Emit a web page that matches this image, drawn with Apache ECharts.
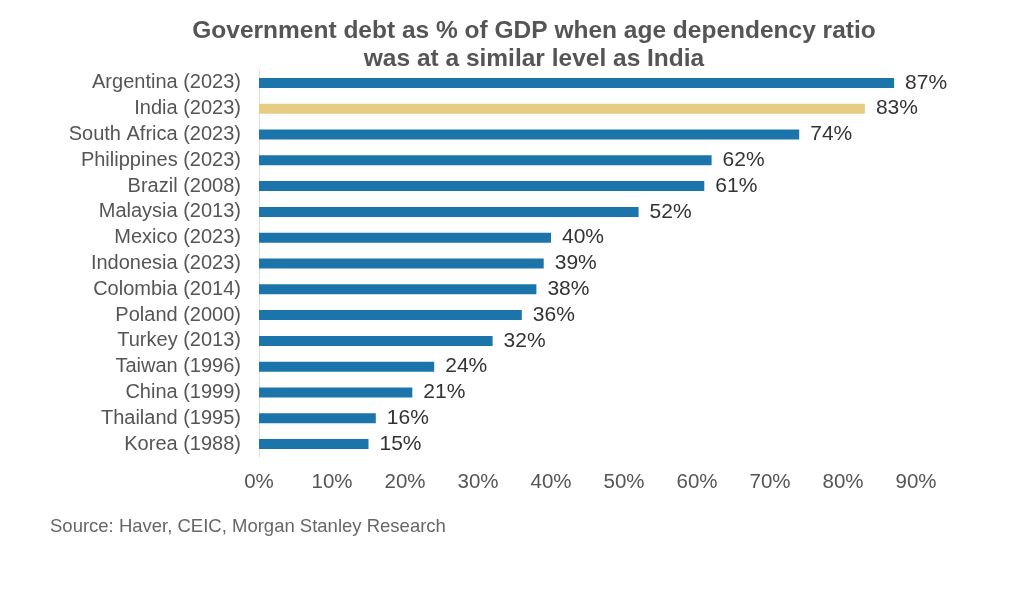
<!DOCTYPE html>
<html>
<head>
<meta charset="utf-8">
<script src="https://cdn.jsdelivr.net/npm/echarts@6/dist/echarts.min.js"></script>
<style>
html,body{margin:0;padding:0;background:#fff;}
#chart{width:1009px;height:606px;}
</style>
</head>
<body>
<div id="chart"></div>
<script>
const categories = ["Argentina (2023)","India (2023)","South Africa (2023)","Philippines (2023)","Brazil (2008)","Malaysia (2013)","Mexico (2023)","Indonesia (2023)","Colombia (2014)","Poland (2000)","Turkey (2013)","Taiwan (1996)","China (1999)","Thailand (1995)","Korea (1988)"];
const values = [87,83,74,62,61,52,40,39,38,36,32,24,21,16,15];
const highlight = "India (2023)";
const tickValues = [0,10,20,30,40,50,60,70,80,90];

const chart = echarts.init(document.getElementById('chart'));
chart.setOption({
  backgroundColor:'#fff',
  animation:false,
  title:{
    text:'Government debt as % of GDP when age dependency ratio\nwas at a similar level as India',
    left:529, top:12, textAlign:'center',
    textStyle:{fontFamily:'Liberation Sans',fontWeight:'bold',fontSize:24.5,color:'#555555',lineHeight:28}
  },
  graphic:[{type:'text',left:50,top:517,style:{text:'Source: Haver, CEIC, Morgan Stanley Research',font:'18.5px "Liberation Sans"',fill:'#666666'}}],
  grid:{left:259,right:93,top:70,bottom:149,containLabel:false},
  xAxis:{
    type:'value',min:0,max:90,interval:10,
    axisLine:{show:false},axisTick:{show:false},splitLine:{show:false},
    axisLabel:{formatter:v=>v+'%',fontFamily:'Liberation Sans',fontSize:20.5,color:'#555555',margin:15}
  },
  yAxis:{
    type:'category',data:categories,inverse:true,
    axisLine:{show:true,lineStyle:{color:'#e2e2e2',width:1}},axisTick:{show:false},
    axisLabel:{interval:0,fontFamily:'Liberation Sans',fontSize:20,color:'#555555',margin:18}
  },
  series:[{
    type:'bar',barWidth:10,
    data:values.map((v,i)=>({value:v,itemStyle:{color:categories[i]===highlight?'#E7CD84':'#1B74AA'}})),
    label:{show:true,position:'right',distance:11,formatter:p=>p.value+'%',fontFamily:'Liberation Sans',fontSize:21,color:'#333333'}
  }]
});
</script>
</body>
</html>
